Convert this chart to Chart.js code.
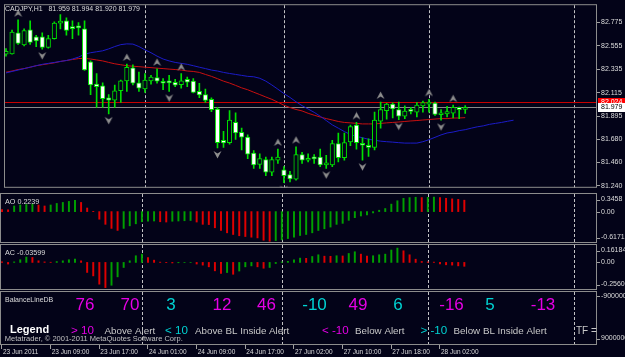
<!DOCTYPE html>
<html>
<head>
<meta charset="utf-8">
<script src="https://cdn.jsdelivr.net/npm/chart.js@4.4.0/dist/chart.umd.min.js"></script>
<style>
  html, body { margin: 0; padding: 0; background: #030318; overflow: hidden; }
  #wrap { position: relative; width: 625px; height: 357px; background: #030318; }
  canvas { position: absolute; left: 0; }
</style>
</head>
<body>
<div id="wrap">
  <canvas id="cMain" width="625" height="193" style="top:0"></canvas>
  <canvas id="cAO" width="625" height="52" style="top:192px"></canvas>
  <canvas id="cAC" width="625" height="48" style="top:243px"></canvas>
  <canvas id="cBal" width="625" height="67" style="top:290px"></canvas>
</div>
<script>
// ---- data ----
const symbol = 'CADJPY,H1'
const opens = [82.477,82.480,82.678,82.565,82.706,82.640,82.640,82.540,82.624,82.769,
  82.790,82.724,82.727,82.715,82.405,82.197,82.179,82.068,82.046,82.134,
  82.227,82.348,82.209,82.152,82.227,82.258,82.218,82.211,82.212,82.191,
  82.240,82.224,82.128,82.098,82.053,81.962,81.667,81.646,81.836,81.743,
  81.698,81.547,81.441,81.487,81.369,81.481,81.391,81.346,81.303,81.535,
  81.481,81.497,81.511,81.436,81.436,81.637,81.505,81.653,81.812,81.640,
  81.617,81.601,81.848,81.947,82.008,81.956,81.896,81.943,81.933,81.992,
  82.008,82.017,81.908,81.917,81.924,81.978,81.959]
const highs = [82.531,82.703,82.800,82.715,82.790,82.655,82.678,82.655,82.781,82.850,
  82.820,82.790,82.775,82.790,82.414,82.294,82.209,82.098,82.188,82.233,
  82.385,82.378,82.308,82.294,82.278,82.339,82.249,82.278,82.240,82.294,
  82.263,82.249,82.204,82.149,82.068,81.978,81.752,81.947,81.926,81.782,
  81.719,81.572,81.541,81.511,81.511,81.586,81.421,81.376,81.608,81.556,
  81.541,81.535,81.586,81.526,81.667,81.737,81.737,81.812,81.836,81.692,
  81.683,81.933,82.028,82.015,82.020,82.028,81.992,81.978,82.023,82.037,
  82.053,82.028,81.956,81.987,81.998,81.980,81.994]
const lows = [82.459,82.477,82.570,82.556,82.570,82.549,82.525,82.534,82.619,82.715,
  82.655,82.624,82.655,82.324,82.098,81.978,81.978,81.917,81.978,82.023,
  82.128,82.188,82.128,82.119,82.195,82.204,82.143,82.128,82.173,82.158,
  82.173,82.113,82.068,82.023,81.938,81.596,81.601,81.631,81.676,81.577,
  81.496,81.405,81.405,81.337,81.337,81.450,81.270,81.276,81.294,81.450,
  81.466,81.450,81.421,81.405,81.421,81.466,81.481,81.617,81.586,81.481,
  81.517,81.577,81.782,81.866,81.878,81.862,81.872,81.917,81.887,81.933,
  81.933,81.902,81.857,81.887,81.878,81.872,81.920]
const closes = [82.504,82.685,82.579,82.700,82.588,82.601,82.540,82.624,82.769,82.781,
  82.700,82.718,82.724,82.330,82.188,82.173,82.059,82.046,82.134,82.227,
  82.353,82.204,82.158,82.233,82.263,82.224,82.204,82.207,82.185,82.227,
  82.215,82.119,82.095,82.044,81.956,81.646,81.644,81.857,81.737,81.698,
  81.538,81.436,81.496,81.369,81.487,81.511,81.337,81.306,81.535,81.481,
  81.496,81.494,81.436,81.457,81.637,81.505,81.646,81.797,81.646,81.622,
  81.601,81.857,81.956,82.008,81.962,81.896,81.942,81.940,81.998,82.023,
  82.023,81.911,81.924,81.938,81.978,81.956,81.979]
const maRed = [82.308,82.319,82.333,82.342,82.355,82.369,82.378,82.387,82.396,82.409,
  82.418,82.427,82.436,82.438,82.432,82.423,82.414,82.400,82.387,82.378,
  82.369,82.364,82.360,82.355,82.351,82.346,82.342,82.337,82.333,82.328,
  82.319,82.315,82.306,82.287,82.269,82.247,82.224,82.206,82.184,82.161,
  82.143,82.120,82.098,82.075,82.053,82.026,81.998,81.976,81.958,81.944,
  81.922,81.904,81.887,81.872,81.859,81.845,81.836,81.832,81.827,81.822,
  81.822,81.822,81.827,81.832,81.836,81.840,81.845,81.850,81.854,81.859,
  81.863,81.868,81.872,81.872,81.877,81.878,81.881]
const maBlue = [82.301,82.315,82.328,82.342,82.355,82.369,82.382,82.391,82.400,82.409,
  82.418,82.432,82.450,82.477,82.491,82.500,82.509,82.527,82.549,82.567,
  82.574,82.572,82.549,82.518,82.491,82.459,82.432,82.414,82.400,82.391,
  82.382,82.369,82.355,82.342,82.328,82.319,82.306,82.296,82.287,82.278,
  82.269,82.265,82.251,82.224,82.188,82.148,82.107,82.071,82.030,81.994,
  81.962,81.931,81.895,81.854,81.813,81.782,81.750,81.723,81.705,81.692,
  81.678,81.669,81.660,81.655,81.651,81.646,81.642,81.642,81.642,81.655,
  81.674,81.696,81.719,81.737,81.746,81.759,81.768,81.782,81.795,81.804,
  81.818,81.827,81.836,81.847,81.857]
const fractalUp = [2, 20, 25, 29, 45, 48, 58, 62, 70, 74]
const fractalDown = [6, 17, 27, 35, 46, 53, 59, 65, 72]
const bidPrice = 81.979
const askPrice = 82.024
const priceTicks = [82.775, 82.555, 82.335, 82.115, 81.895, 81.680, 81.460, 81.240]

const aoValues = [0.040,0.035,0.110,0.130,0.140,0.145,0.130,0.110,0.130,0.160,
  0.180,0.200,0.220,0.180,0.070,0.005,-0.150,-0.250,-0.330,-0.370,
  -0.330,-0.280,-0.240,-0.200,-0.190,-0.185,-0.200,-0.205,-0.190,-0.185,
  -0.180,-0.175,-0.205,-0.250,-0.255,-0.318,-0.371,-0.417,-0.450,-0.475,
  -0.490,-0.503,-0.517,-0.563,-0.583,-0.570,-0.555,-0.530,-0.503,-0.470,
  -0.450,-0.417,-0.371,-0.338,-0.304,-0.251,-0.231,-0.172,-0.119,-0.086,
  -0.066,-0.026,0.027,0.060,0.147,0.213,0.260,0.275,0.282,0.275,
  0.280,0.285,0.275,0.262,0.250,0.240,0.2239]
const aoMax = 0.3458, aoMin = -0.6171
const acValues = [0.005,-0.015,0.005,0.025,0.050,0.046,0.015,0.005,0.002,0.008,
  0.015,0.025,0.031,0.015,-0.093,-0.125,-0.202,-0.234,-0.212,-0.134,
  -0.047,0.015,0.062,0.077,0.046,0.021,0.003,-0.002,-0.005,-0.003,
  -0.001,0.001,-0.015,-0.025,-0.041,-0.078,-0.103,-0.094,-0.110,-0.080,
  -0.041,-0.032,-0.041,-0.054,-0.047,-0.010,0.005,0.010,0.024,0.040,
  0.038,0.055,0.071,0.058,0.057,0.062,0.060,0.083,0.099,0.077,
  0.058,0.062,0.071,0.077,0.115,0.133,0.108,0.071,0.030,0.009,
  0.005,0.003,-0.015,-0.022,-0.025,-0.032,-0.03599]
const acMax = 0.16184, acMin = -0.25607

const balanceValues = [76, 70, 3, 12, 46, -10, 49, 6, -16, 5, -13]
const alertLevel = 10
const balanceAxis = ['-9000000', '9000000']
const legendKeys = ['> 10', '< 10', '< -10', '> -10']
const legendNames = ['Above Alert', 'Above BL Inside Alert', 'Below Alert', 'Below BL Inside Alert']

const timeLabels = ['23 Jun 2011','23 Jun 09:00','23 Jun 17:00','24 Jun 01:00','24 Jun 09:00',
  '24 Jun 17:00','27 Jun 02:00','27 Jun 10:00','27 Jun 18:00','28 Jun 02:00']
const timeTickIdx = [0, 8, 16, 24, 32, 40, 48, 56, 64, 72]
const dayStarts = [23, 46, 70, 94]

// ---- look ----
const FONT = '"Liberation Sans", Arial, sans-serif'
const BG = '#030318'
const FRAME = '#8c8c8c'
const TXT = '#dcdcdc'
const CANDLE = '#00e000'
const UP = '#00a000', DN = '#e00000'
const MAG = '#e600e6', CYAN = '#00d2d2'
const X_MIN = -0.164, X_MAX = 97.81
const balanceSlotX = [85, 130, 171, 222, 266.5, 314.5, 358, 398, 451.5, 490, 543]
const legendKeyX = [71, 165, 322, 420.5]
const legendNameX = [104.5, 195, 355, 453.5]

Chart.defaults.font.family = FONT

const base = {
  responsive: false, animation: false, events: [],
  plugins: { legend: { display: false }, tooltip: { enabled: false } },
}
const xHidden = () => ({ type: 'linear', min: X_MIN, max: X_MAX, display: false, offset: false, grid: { offset: false } })

function frame(chart) {
  const { ctx, chartArea: a } = chart
  ctx.save()
  ctx.strokeStyle = FRAME; ctx.lineWidth = 1
  ctx.strokeRect(a.left - 0.5, a.top - 0.5, a.right - a.left, a.bottom - a.top)
  ctx.restore()
}
function seps(chart) {
  const { ctx, chartArea: a, scales } = chart
  ctx.save()
  ctx.strokeStyle = 'rgba(215,215,215,0.9)'; ctx.lineWidth = 1; ctx.setLineDash([3, 2])
  ctx.beginPath()
  dayStarts.forEach(d => {
    const x = Math.round(scales.x.getPixelForValue(d)) + 0.5
    ctx.moveTo(x, a.top); ctx.lineTo(x, a.bottom)
  })
  ctx.stroke()
  ctx.restore()
}
function txt(ctx, s, x, y, size, color, opt = {}) {
  ctx.font = (opt.bold ? 'bold ' : '') + size + 'px ' + FONT
  ctx.fillStyle = color
  ctx.textAlign = opt.align || 'left'
  ctx.textBaseline = opt.base || 'alphabetic'
  ctx.fillText(s, x, y)
}
function sideLabel(ctx, s, y) {
  ctx.fillStyle = '#a0a0a0'
  ctx.fillRect(597, Math.round(y), 3, 1)
  txt(ctx, s, 601, y, 7, TXT, { base: 'middle' })
}
function hLine(ctx, a, y, color) {
  const py = Math.round(y) + 0.5
  ctx.save(); ctx.strokeStyle = color; ctx.lineWidth = 1
  ctx.beginPath(); ctx.moveTo(a.left, py); ctx.lineTo(a.right, py); ctx.stroke(); ctx.restore()
}
function priceBox(ctx, y, s, bg, fg) {
  ctx.fillStyle = bg
  ctx.fillRect(598, Math.round(y) - 4, 27, 9)
  txt(ctx, s, 601, Math.round(y) + 0.5, 7, fg, { base: 'middle' })
}
function chevron(up) {
  const c = document.createElement('canvas')
  c.width = 9; c.height = 22
  const g = c.getContext('2d')
  g.fillStyle = '#8e8e8e'
  g.beginPath()
  if (up) { g.moveTo(0.5, 8); g.lineTo(4.5, 0.5); g.lineTo(8.5, 8); g.lineTo(4.5, 5.5) }
  else { g.moveTo(0.5, 14); g.lineTo(4.5, 21.5); g.lineTo(8.5, 14); g.lineTo(4.5, 16.5) }
  g.closePath(); g.fill()
  return c
}
const pts = arr => arr.map((v, i) => ({ x: i, y: v }))
const trendColor = vals => c => (c.dataIndex > 0 && vals[c.dataIndex] >= vals[c.dataIndex - 1]) ? UP : DN

// ---- main price panel ----
const last = opens.length - 1
const headline = symbol + '   ' + [opens[last], highs[last], lows[last], closes[last]].map(v => v.toFixed(3)).join(' ')

new Chart(document.getElementById('cMain'), {
  type: 'bar',
  data: {
    datasets: [
      { type: 'line', data: pts(maRed), borderColor: '#c81010', borderWidth: 1, pointRadius: 0, order: 7 },
      { type: 'line', data: pts(maBlue), borderColor: '#1c1cc8', borderWidth: 1, pointRadius: 0, order: 6 },
      { data: lows.map((l, i) => ({ x: i, y: [l, highs[i]] })), backgroundColor: CANDLE,
        barThickness: 1, grouped: false, minBarLength: 1, order: 5 },
      { data: opens.map((o, i) => ({ x: i, y: [o, closes[i]] })),
        backgroundColor: c => closes[c.dataIndex] < opens[c.dataIndex] ? '#ffffff' : BG,
        borderColor: CANDLE, borderWidth: 1, borderSkipped: false,
        barThickness: 4.5, grouped: false, minBarLength: 2, order: 4 },
      { type: 'scatter', data: fractalUp.map(i => ({ x: i, y: highs[i] })), pointStyle: chevron(true), pointRadius: 3, order: 1 },
      { type: 'scatter', data: fractalDown.map(i => ({ x: i, y: lows[i] })), pointStyle: chevron(false), pointRadius: 3, order: 1 },
    ],
  },
  options: {
    ...base,
    layout: { padding: { left: 1, top: 2, bottom: 1, right: 0 } },
    scales: {
      x: xHidden(),
      y: {
        position: 'right', min: 81.2219, max: 82.9375,
        afterFit: s => { s.width = 28 },
        afterBuildTicks: s => { s.ticks = priceTicks.map(v => ({ value: v })) },
        grid: { drawOnChartArea: false, tickLength: 3, color: '#a0a0a0' },
        border: { display: false },
        ticks: { autoSkip: false, padding: 1, color: TXT, font: { size: 7 }, callback: v => v.toFixed(3) },
      },
    },
  },
  plugins: [{
    id: 'mainDecor',
    beforeDatasetsDraw(chart) {
      const { ctx, chartArea: a, scales: { y } } = chart
      seps(chart)
      hLine(ctx, a, y.getPixelForValue(askPrice), '#c80000')
      hLine(ctx, a, y.getPixelForValue(bidPrice), '#8a8a8a')
    },
    afterDraw(chart) {
      const { ctx, scales: { y } } = chart
      frame(chart)
      ctx.save()
      txt(ctx, headline, 5, 10.5, 7, TXT)
      priceBox(ctx, y.getPixelForValue(askPrice), askPrice.toFixed(3), '#ff0000', '#ffffff')
      priceBox(ctx, y.getPixelForValue(bidPrice), bidPrice.toFixed(3), '#ffffff', '#000000')
      ctx.restore()
    },
  }],
})

// ---- oscillator panels ----
function oscPanel(id, name, vals, lo, hi, digits) {
  new Chart(document.getElementById(id), {
    type: 'bar',
    data: { datasets: [{ data: pts(vals), backgroundColor: trendColor(vals), barThickness: 1.3, grouped: false }] },
    options: {
      ...base,
      layout: { padding: { left: 1, top: 2, bottom: 1, right: 28 } },
      scales: { x: xHidden(), y: { display: false, min: lo, max: hi } },
    },
    plugins: [{
      id: id + 'Decor',
      beforeDatasetsDraw: seps,
      afterDraw(chart) {
        const { ctx, chartArea: a, scales: { y } } = chart
        frame(chart)
        ctx.save()
        txt(ctx, name + ' ' + vals[vals.length - 1], 5, a.top + 9.5, 7.2, TXT)
        sideLabel(ctx, hi.toFixed(digits), a.top + 5.5)
        sideLabel(ctx, '0.00', y.getPixelForValue(0))
        sideLabel(ctx, lo.toFixed(digits), a.bottom - 5.5)
        ctx.restore()
      },
    }],
  })
}
oscPanel('cAO', 'AO', aoValues, aoMin, aoMax, 4)
oscPanel('cAC', 'AC', acValues, acMin, acMax, 5)

// ---- balance line panel + time axis ----
new Chart(document.getElementById('cBal'), {
  type: 'bar',
  data: { datasets: [] },
  options: {
    ...base,
    layout: { padding: { left: 1, top: 2, bottom: 0, right: 28 } },
    scales: {
      x: {
        type: 'linear', min: X_MIN, max: X_MAX, position: 'bottom', offset: false,
        afterFit: s => { s.height = 12 },
        afterBuildTicks: s => { s.ticks = timeTickIdx.map(v => ({ value: v })) },
        grid: { drawOnChartArea: false, offset: false, tickLength: 4, color: '#a0a0a0' },
        border: { display: false },
        ticks: { autoSkip: false, maxRotation: 0, align: 'start', padding: -1, labelOffset: 1,
          color: TXT, font: { size: 6.5 }, callback: (v, i) => timeLabels[i] },
      },
      y: { display: false, min: 0, max: 1 },
    },
  },
  plugins: [{
    id: 'balDecor',
    beforeDraw: seps,
    afterDraw(chart) {
      const { ctx, chartArea: a } = chart
      frame(chart)
      ctx.save()
      txt(ctx, 'BalanceLineDB', 5, a.top + 9.5, 7, TXT)
      balanceValues.forEach((v, i) => {
        const col = (v > alertLevel || v < -alertLevel) ? MAG : CYAN
        txt(ctx, String(v), balanceSlotX[i], a.top + 18, 17, col, { align: 'center' })
      })
      txt(ctx, 'Legend', 10, a.top + 41.3, 11, '#ffffff', { bold: true })
      legendKeys.forEach((k, i) => {
        txt(ctx, k, legendKeyX[i], a.top + 41.5, 11.6, i % 2 === 0 ? MAG : CYAN)
        txt(ctx, legendNames[i], legendNameX[i], a.top + 41.5, 9.8, '#c8c8c8')
      })
      txt(ctx, 'TF =', 576, a.top + 41.5, 10, '#c8c8c8')
      txt(ctx, 'Metatrader, \u00a9 2001-2011 MetaQuotes Software Corp.', 4.8, a.top + 48.5, 7.5, '#c0c0c0')
      sideLabel(ctx, balanceAxis[0], a.top + 4)
      sideLabel(ctx, balanceAxis[1], a.bottom - 6.5)
      ctx.restore()
    },
  }],
})
</script>
</body>
</html>
